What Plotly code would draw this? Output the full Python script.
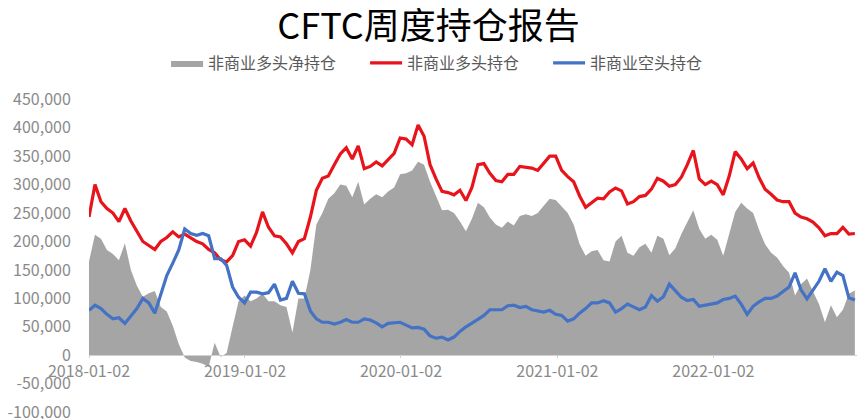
import pandas as pd
import plotly.graph_objects as go

# Bi-weekly report dates (every other CFTC report), 2018-01-02 .. 2022-11-29
dates = pd.date_range("2018-01-02", periods=129, freq="14D")

# 非商业多头持仓 (non-commercial long), thousand contracts
long_pos = [243, 300, 270, 258, 250, 235, 258, 236, 218, 200,
            193, 186, 200, 207, 217, 208, 213, 207, 200, 196,
            186, 180, 168, 164, 175, 200, 203, 192, 216, 252,
            225, 210, 208, 196, 180, 200, 205, 243, 290, 311,
            315, 335, 354, 365, 345, 368, 328, 332, 340, 333,
            345, 355, 382, 380, 370, 405, 385, 335, 310, 288,
            286, 282, 290, 272, 295, 335, 337, 320, 307, 305,
            318, 318, 332, 330, 329, 325, 337, 350, 350, 325,
            314, 305, 280, 260, 268, 276, 275, 287, 294, 289,
            266, 270, 279, 281, 292, 311, 306, 297, 300, 313,
            335, 360, 310, 300, 306, 300, 282, 315, 358, 345,
            328, 338, 312, 292, 283, 273, 270, 270, 250, 243,
            240, 234, 224, 210, 214, 214, 225, 213, 214]

# 非商业空头持仓 (non-commercial short)
short_pos = [79, 88, 82, 72, 64, 66, 56, 70, 82, 100,
             92, 74, 105, 140, 162, 185, 222, 214, 211, 214,
             210, 170, 170, 158, 120, 102, 92, 111, 111, 108,
             110, 125, 97, 100, 130, 109, 108, 78, 64, 58,
             58, 55, 58, 63, 58, 58, 64, 62, 57, 50,
             56, 57, 58, 53, 48, 49, 46, 34, 30, 32,
             27, 32, 42, 50, 56, 63, 70, 80, 80, 80,
             87, 88, 84, 86, 80, 78, 76, 79, 72, 70,
             60, 64, 74, 82, 92, 92, 96, 92, 76, 82,
             90, 85, 80, 85, 105, 95, 103, 125, 114, 102,
             96, 98, 86, 88, 91, 92, 98, 100, 104, 90,
             72, 86, 94, 100, 100, 104, 112, 120, 145, 115,
             99, 114, 130, 152, 130, 146, 140, 101, 97]

# 非商业多头净持仓 (non-commercial net long)
net_pos = [165, 212, 205, 185, 178, 167, 197, 150, 122, 103,
           109, 113, 85, 77, 52, 20, -4, -10, -12, -15,
           -20, 22, -3, 4, 50, 95, 105, 95, 100, 108,
           95, 95, 88, 85, 40, 100, 100, 150, 230, 250,
           275, 285, 300, 298, 278, 305, 265, 275, 283, 278,
           288, 295, 318, 320, 325, 340, 335, 305, 280, 255,
           256, 250, 235, 218, 240, 268, 260, 242, 230, 224,
           235, 228, 245, 248, 245, 250, 263, 275, 273, 262,
           250, 230, 195, 175, 183, 185, 167, 165, 200, 210,
           180, 175, 190, 196, 180, 210, 205, 176, 188, 213,
           235, 255, 222, 205, 212, 203, 175, 215, 252, 268,
           258, 250, 220, 195, 180, 172, 157, 145, 105, 125,
           135, 112, 90, 58, 88, 67, 80, 108, 114]

long_pos = [v * 1000 for v in long_pos]
short_pos = [v * 1000 for v in short_pos]
net_pos = [v * 1000 for v in net_pos]

y_ticks = [-100000, -50000, 0, 50000, 100000, 150000, 200000, 250000,
           300000, 350000, 400000, 450000]
y_labels = ["-100,000", "-50,000", "0", "50,000", "100,000", "150,000",
            "200,000", "250,000", "300,000", "350,000", "400,000", "450,000"]
x_ticks = ["2018-01-02", "2019-01-02", "2020-01-02", "2021-01-02", "2022-01-02"]

FONT = "Noto Sans CJK SC, Liberation Sans, sans-serif"
TICK_COLOR = "#8a8a8a"
PAD = "\u2003\u2002"

fig = go.Figure()
fig.add_trace(go.Scatter(
    x=dates, y=net_pos, name="非商业多头净持仓" + PAD, mode="lines",
    line=dict(width=0, color="#a5a5a5"), fill="tozeroy",
    fillcolor="#a5a5a5"))
fig.add_trace(go.Scatter(
    x=dates, y=long_pos, name="非商业多头持仓" + PAD, mode="lines",
    line=dict(width=3.2, color="#e8141b")))
fig.add_trace(go.Scatter(
    x=dates, y=short_pos, name="非商业空头持仓", mode="lines",
    line=dict(width=3.2, color="#4472c4")))

y_lo, y_hi = -101500, 450500
zero_frac = (0 - y_lo) / (y_hi - y_lo)

fig.update_layout(
    width=857, height=419,
    margin=dict(l=89, r=0, t=99, b=6, autoexpand=False),
    paper_bgcolor="white", plot_bgcolor="white",
    font=dict(family=FONT, color=TICK_COLOR),
    title=dict(text="CFTC周度持仓报告", x=0.5, xref="container",
               y=1 - 26 / 419, yref="container", yanchor="middle",
               xanchor="center",
               font=dict(size=36, color="#000000", family=FONT)),
    legend=dict(orientation="h", xref="container", x=0.51, xanchor="center",
                yref="container", y=1 - 63 / 419, yanchor="middle",
                font=dict(size=16, color="#595959", family=FONT),
                itemwidth=32, tracegroupgap=0, bgcolor="rgba(0,0,0,0)"),
    showlegend=True,
    xaxis=dict(type="date", range=["2018-01-02", "2022-12-04"],
               anchor="free", position=zero_frac,
               showline=True, linecolor="#d0d0d0", linewidth=1,
               showgrid=False, zeroline=False,
               ticks="outside", ticklen=2, tickcolor="#d0d0d0",
               tickvals=x_ticks, ticktext=x_ticks,
               ticklabeloverflow="allow",
               tickfont=dict(size=16, color=TICK_COLOR, family=FONT)),
    yaxis=dict(range=[y_lo, y_hi], showgrid=False, zeroline=False,
               showline=False, tickvals=y_ticks, ticktext=y_labels,
               ticks="outside", ticklen=14, tickcolor="rgba(0,0,0,0)",
               ticklabeloverflow="allow",
               tickfont=dict(size=16, color=TICK_COLOR, family=FONT)),
)

fig.write_html("out.html", config={"displayModeBar": False},
               post_script="document.body.style.margin='0px';")
